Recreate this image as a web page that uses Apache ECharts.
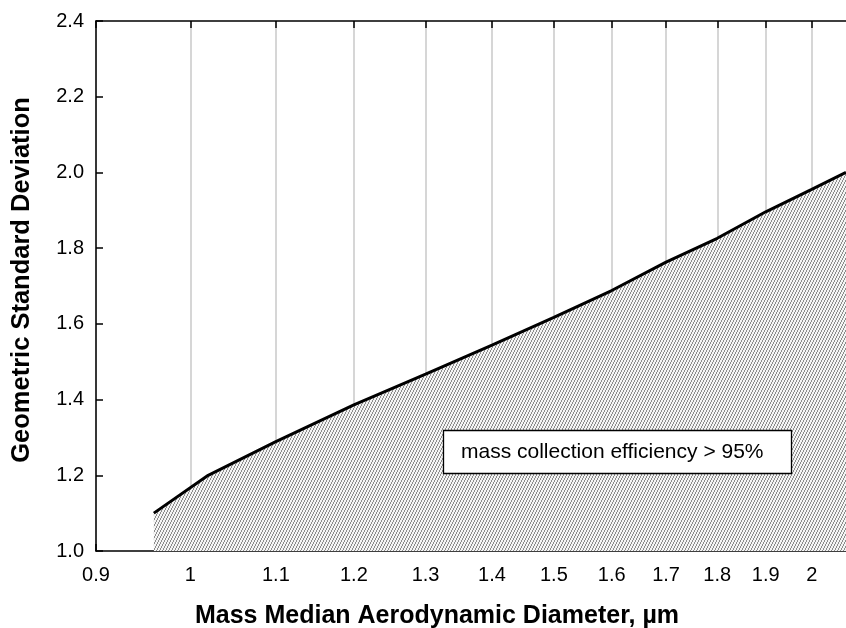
<!DOCTYPE html>
<html>
<head>
<meta charset="utf-8">
<script src="https://cdn.jsdelivr.net/npm/echarts@6/dist/echarts.min.js"></script>
<style>html,body{margin:0;padding:0;background:#fff;}#c{width:846px;height:628px;}</style>
</head>
<body>
<div id="c"></div>
<script>
// Data
const diameters = [0.96, 1.02, 1.1, 1.2, 1.3, 1.4, 1.5, 1.6, 1.7, 1.8, 1.9, 2.0, 2.078];
const gsd        = [1.10, 1.20, 1.289, 1.386, 1.467, 1.544, 1.617, 1.688, 1.763, 1.826, 1.896, 1.955, 2.0];
const xTicks = [0.9, 1, 1.1, 1.2, 1.3, 1.4, 1.5, 1.6, 1.7, 1.8, 1.9, 2];
const xMin = 0.9, xMax = 2.078;
const yMin = 1.0, yMax = 2.4, yStep = 0.2;
const annotation = 'mass collection efficiency > 95%';
const xTitle = 'Mass Median Aerodynamic Diameter, µm';
const yTitle = 'Geometric Standard Deviation';

// hatch pattern
const pc = document.createElement('canvas');
pc.width = 3; pc.height = 6;
const pctx = pc.getContext('2d');
pctx.fillStyle = '#f4f4f4'; pctx.fillRect(0, 0, 3, 6);
pctx.fillStyle = '#8c8c8c';
for (let y = 0; y < 6; y++) { pctx.fillRect(2 - Math.floor(y / 2), y, 1, 1); }

const font = 'Arial, "Liberation Sans", Helvetica, sans-serif';
const chart = echarts.init(document.getElementById('c'));
const fmt = v => String(parseFloat((+v).toFixed(3)));

chart.setOption({
  animation: false,
  backgroundColor: '#fff',
  grid: { left: 96, top: 21, right: 0, bottom: 77, containLabel: false, outerBoundsMode: 'none' },
  title: {
    text: annotation, left: 443, top: 431, z: 20,
    padding: [11, 28, 11, 18],
    borderWidth: 1.3, borderColor: '#000', backgroundColor: '#fff',
    textStyle: { fontSize: 21, lineHeight: 20, fontWeight: 'normal', color: '#000', fontFamily: font }
  },
  xAxis: [{
    type: 'log', min: xMin, max: xMax, position: 'bottom',
    axisLine: { show: true, onZero: false, lineStyle: { color: '#000', width: 1.5 } },
    axisTick: { show: true, inside: true, length: 7, customValues: xTicks, lineStyle: { color: '#000', width: 1.5 } },
    axisLabel: { customValues: xTicks, formatter: fmt, color: '#000', fontSize: 20, fontFamily: font, margin: 14 },
    splitLine: { show: true, lineStyle: { color: '#c8c8c8', width: 1.5 } },
    minorTick: { show: false }, minorSplitLine: { show: false },
    name: xTitle, nameLocation: 'middle', nameGap: 53,
    nameTextStyle: { fontSize: 25, fontWeight: 'bold', color: '#000', fontFamily: font, padding: [0, 68, 0, 0] }
  }, {
    type: 'log', min: xMin, max: xMax, position: 'top',
    axisLine: { show: true, onZero: false, lineStyle: { color: '#000', width: 1.5 } },
    axisTick: { show: true, inside: true, length: 7, customValues: xTicks, lineStyle: { color: '#000', width: 1.5 } },
    axisLabel: { show: false },
    splitLine: { show: false }
  }],
  yAxis: {
    type: 'value', min: yMin, max: yMax, interval: yStep,
    axisLine: { show: true, lineStyle: { color: '#000', width: 1.5 } },
    axisTick: { show: true, inside: true, length: 7, lineStyle: { color: '#000', width: 1.5 } },
    axisLabel: { formatter: v => v.toFixed(1), color: '#000', fontSize: 20, fontFamily: font, margin: 12 },
    splitLine: { show: false },
    name: yTitle, nameLocation: 'middle', nameGap: 61,
    nameTextStyle: { fontSize: 25.5, fontWeight: 'bold', color: '#000', fontFamily: font, padding: [0, 0, 0, 12] }
  },
  series: [{
    type: 'line',
    data: diameters.map((d, i) => [d, gsd[i]]),
    showSymbol: false,
    lineStyle: { color: '#000', width: 3 },
    areaStyle: { color: { image: pc, repeat: 'repeat' }, opacity: 1 },
    z: 3
  }]
});
</script>
</body>
</html>
